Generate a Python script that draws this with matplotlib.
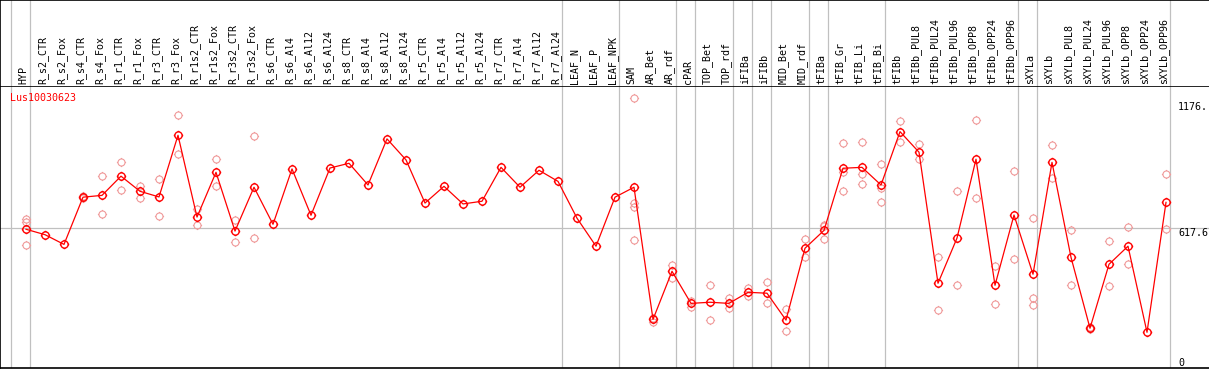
import matplotlib
matplotlib.use('Agg')
import matplotlib.pyplot as plt
import matplotlib.transforms as mtransforms
from matplotlib.path import Path
import numpy as np

# sample names, left to right
labels = ['HYP',
          'R_s2_CTR', 'R_s2_Fox', 'R_s4_CTR', 'R_s4_Fox', 'R_r1_CTR', 'R_r1_Fox',
          'R_r3_CTR', 'R_r3_Fox', 'R_r1s2_CTR', 'R_r1s2_Fox', 'R_r3s2_CTR', 'R_r3s2_Fox',
          'R_s6_CTR', 'R_s6_Al4', 'R_s6_Al12', 'R_s6_Al24',
          'R_s8_CTR', 'R_s8_Al4', 'R_s8_Al12', 'R_s8_Al24',
          'R_r5_CTR', 'R_r5_Al4', 'R_r5_Al12', 'R_r5_Al24',
          'R_r7_CTR', 'R_r7_Al4', 'R_r7_Al12', 'R_r7_Al24',
          'LEAF_N', 'LEAF_P', 'LEAF_NPK',
          'SAM', 'AR_Bet', 'AR_rdf', 'cPAR', 'TOP_Bet', 'TOP_rdf',
          'iFIBa', 'iFIBb', 'MID_Bet', 'MID_rdf',
          'tFIBa', 'tFIB_Gr', 'tFIB_Li', 'tFIB_Bi',
          'tFIBb', 'tFIBb_PUL8', 'tFIBb_PUL24', 'tFIBb_PUL96',
          'tFIBb_OPP8', 'tFIBb_OPP24', 'tFIBb_OPP96',
          'sXYLa', 'sXYLb', 'sXYLb_PUL8', 'sXYLb_PUL24', 'sXYLb_PUL96',
          'sXYLb_OPP8', 'sXYLb_OPP24', 'sXYLb_OPP96']

# mean expression per sample
means = [612, 588, 545, 754, 762, 847, 780, 755, 1028, 666, 864, 604, 798,
         634, 879, 674, 883, 904, 808, 1012, 919, 728, 802, 724, 736,
         886, 798, 873, 824, 661, 537, 754,
         798, 213, 426, 284, 289, 284, 333, 329, 210, 528,
         607, 882, 886, 808,
         1044, 953, 373, 573, 922, 364, 675,
         413, 908, 488, 174, 457, 537, 156, 731]

# individual replicates (only where they are visible)
replicates = {
    0: [659, 646, 541],
    3: [757, 750],
    4: [847, 678],
    5: [908, 785],
    6: [805, 752],
    7: [833, 669],
    8: [1117, 944],
    9: [702, 630],
    10: [922, 802],
    11: [653, 554],
    12: [1024, 572],
    32: [1192, 730, 709, 563],
    33: [219, 203],
    34: [454, 398],
    35: [294, 269],
    36: [364, 209],
    37: [306, 265],
    38: [351, 318],
    39: [379, 284],
    40: [259, 163],
    41: [569, 488],
    42: [630, 625, 568],
    43: [993, 867, 780],
    44: [997, 855, 811],
    45: [900, 793, 731],
    46: [1091, 1000],
    47: [988, 923],
    48: [489, 253],
    49: [780, 364],
    50: [1096, 749],
    51: [449, 280],
    52: [869, 479],
    53: [661, 308, 275],
    54: [984, 838],
    55: [607, 364],
    56: [181, 169],
    57: [559, 360],
    58: [620, 457],
    60: [855, 612],
}

# last sample of each group (vertical separators)
group_ends = [-1, 0, 28, 31, 34, 35, 37, 38, 39, 41, 42, 45, 52, 53, 60]

gene = 'Lus10030623'
y_marks = [1176, 617.6, 0]
y_mark_text = ['1176.', '617.6', '0']

plt.rcParams['font.family'] = ['DejaVu Sans Mono']
plt.rcParams['font.size'] = 7

# circle marker with four little ticks
circle = Path.unit_circle()
ticks = Path([(0, 1), (0, 1.3), (0, -1), (0, -1.3), (1, 0), (1.3, 0), (-1, 0), (-1.3, 0)],
             [Path.MOVETO, Path.LINETO] * 4)
marker = Path.make_compound_path(circle, ticks)

W, H = 1209, 370
fig = plt.figure(figsize=(W / 100, H / 100), dpi=100)
ax = fig.add_axes([0, 2 / H, 1, 282 / H])
axh = fig.add_axes([0, 284 / H, 1, 86 / H], sharex=ax)

x = np.arange(len(labels))
ax.set_xlim(-26 / 19, (W - 26) / 19)
ax.set_ylim(-2, 1246)

grid = '#c0c0c0'
for g in group_ends:
    ax.axvline(g + 0.23, color=grid, lw=0.9, zorder=1)
    axh.axvline(g + 0.23, color=grid, lw=0.9, zorder=1)
ax.axhline(617.6, color=grid, lw=0.9, zorder=1)

# replicates
for i, reps in replicates.items():
    ax.plot([i] * len(reps), reps, linestyle='none', marker=marker, ms=6.6,
            mfc='none', mec='#f09a9a', mew=0.8, zorder=2)

ax.plot(x, means, color='#ff0000', lw=0.9, marker=marker, ms=6.8,
        mfc='none', mec='#ff0000', mew=1.0, zorder=3)

ax.text(10 / W, 0.975, gene, color='#ff0000', transform=ax.transAxes,
        ha='left', va='top', fontsize=7.2)

trans = mtransforms.blended_transform_factory(ax.transAxes, ax.transData)
for v, t in zip(y_marks, y_mark_text):
    ax.text(1178 / W, v, t, transform=trans, ha='left',
            va='bottom' if v == 0 else 'top', fontsize=7.2)

for i, lab in enumerate(labels):
    axh.text(i - 0.14, 0.025, lab, rotation=90, ha='center', va='bottom',
             fontsize=7.2)

for a in (ax, axh):
    a.set_xticks([])
    a.set_yticks([])
    for s in a.spines.values():
        s.set_linewidth(1.2)
        s.set_color('black')
    a.spines['right'].set_visible(False)
axh.spines['bottom'].set_visible(False)

fig.savefig('out.png', dpi=100)
